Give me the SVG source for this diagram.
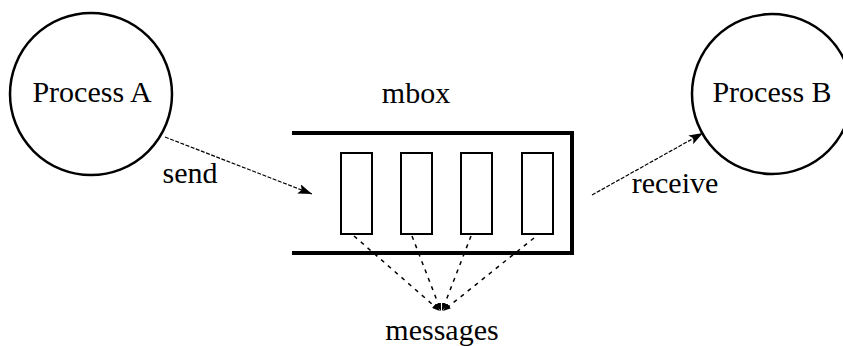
<svg xmlns="http://www.w3.org/2000/svg" width="843" height="346" viewBox="0 0 843 346">
  <defs>
    <marker id="head" viewBox="0 0 14 10" refX="14" refY="5" markerWidth="14" markerHeight="10" markerUnits="userSpaceOnUse" orient="auto">
      <path d="M0,0 L14,5 L0,10 L3,5 Z" fill="#000"/>
    </marker>
    <marker id="small" viewBox="0 0 8 6" refX="8" refY="3" markerWidth="8" markerHeight="6" markerUnits="userSpaceOnUse" orient="auto">
      <path d="M0,0 L8,3 L0,6 Z" fill="#000"/>
    </marker>
  </defs>

  <!-- process circles -->
  <g id="process-a">
    <circle cx="91" cy="94" r="81" fill="#fff" stroke="#000" stroke-width="2.5"/>
    <text x="92" y="102" font-family="Liberation Serif" font-size="30" text-anchor="middle">Process A</text>
  </g>

  <g id="process-b">
    <circle cx="772" cy="94" r="80" fill="#fff" stroke="#000" stroke-width="2.5"/>
    <text x="772" y="102" font-family="Liberation Serif" font-size="30" text-anchor="middle">Process B</text>
  </g>

  <!-- mailbox with queued message slots -->
  <g id="mbox">
    <polyline points="292,133 572,133 572,253 292,253" fill="none" stroke="#000" stroke-width="4"/>
    <text x="416" y="103" font-family="Liberation Serif" font-size="30" text-anchor="middle">mbox</text>
    <g fill="#fff" stroke="#000" stroke-width="2">
      <rect x="341" y="153" width="31" height="81"/>
      <rect x="401" y="153" width="31" height="81"/>
      <rect x="461" y="153" width="31" height="81"/>
      <rect x="522" y="153" width="31" height="81"/>
    </g>
  </g>

  <g id="messages">
    <text x="442" y="340" font-family="Liberation Serif" font-size="30" text-anchor="middle">messages</text>
  </g>

  <!-- connectors -->
  <g id="connectors">
    <g fill="none" stroke="#000" stroke-width="1.2" stroke-dasharray="4 1.5" marker-end="url(#head)">
      <line x1="165" y1="137" x2="312" y2="194"/>
      <line x1="592" y1="195" x2="703" y2="133"/>
    </g>
    <text x="190" y="183" font-family="Liberation Serif" font-size="30" text-anchor="middle">send</text>
    <text x="675" y="193" font-family="Liberation Serif" font-size="30" text-anchor="middle">receive</text>
    <g fill="none" stroke="#000" stroke-width="1.5" stroke-dasharray="4 5" marker-end="url(#small)">
      <line x1="354" y1="236" x2="440" y2="311"/>
      <line x1="412" y1="236" x2="441" y2="311"/>
      <line x1="471" y1="236" x2="442" y2="311"/>
      <line x1="534" y1="238" x2="443" y2="311"/>
    </g>
  </g>
</svg>
